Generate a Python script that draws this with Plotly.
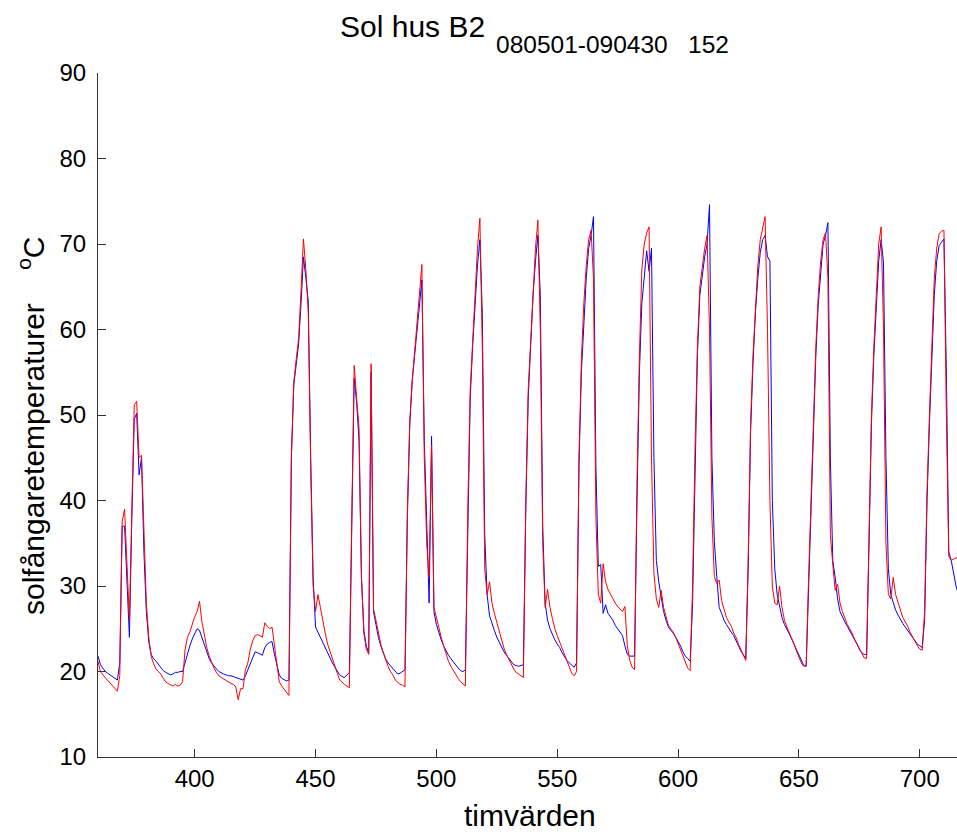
import plotly.graph_objects as go

# hourly collector temperatures, hours 360..716
x_start = 360

blue_vals = [
    21.8, 20.8, 20.4, 20.0, 19.8, 19.6, 19.4, 19.2, 19.0, 21.0,
    37.0, 37.0, 30.0, 24.0, 38.0, 49.5, 50.2, 43.0, 45.0, 34.0,
    27.0, 23.5, 22.0, 21.5, 21.2, 20.8, 20.5, 20.1, 19.9, 19.7,
    19.6, 19.7, 19.9, 19.9, 20.0, 20.0, 21.0, 22.3, 23.0, 23.8,
    24.5, 25.0, 24.8, 24.0, 23.0, 22.2, 21.5, 21.0, 20.6, 20.3,
    20.0, 19.8, 19.7, 19.6, 19.5, 19.5, 19.4, 19.3, 19.2, 19.1,
    19.0, 19.5, 20.2, 21.0, 21.8, 22.3, 22.2, 22.0, 21.9, 22.8,
    23.2, 23.4, 23.5, 22.0, 20.6, 19.6, 19.2, 19.0, 18.9, 19.0,
    45.0, 53.5, 56.0, 58.3, 63.0, 68.5, 66.0, 63.3, 45.0, 31.0,
    25.2, 24.6, 23.8, 23.2, 22.6, 22.0, 21.6, 21.0, 20.5, 20.0,
    19.6, 19.4, 19.3, 19.6, 19.9, 37.0, 54.3, 51.5, 47.0, 31.0,
    24.8, 23.0, 22.2, 55.0, 27.0, 25.5, 24.0, 23.0, 22.2, 21.5,
    21.0, 20.7, 20.3, 20.0, 19.7, 19.8, 20.0, 20.2, 38.0, 49.0,
    54.0, 57.0, 60.0, 63.0, 65.8, 47.0, 36.0, 28.0, 47.5, 27.0,
    25.5, 24.5, 23.7, 23.0, 22.4, 21.9, 21.5, 21.1, 20.7, 20.4,
    20.1, 20.0, 20.2, 38.0, 52.0, 58.0, 63.0, 67.5, 70.5, 62.0,
    36.0, 29.0, 26.5, 25.5, 24.8, 24.0, 23.4, 22.8, 22.3, 21.9,
    21.5, 21.1, 20.8, 20.7, 20.6, 20.7, 20.8, 39.0, 52.0, 58.0,
    64.0, 68.0, 71.0, 64.0, 37.0, 28.0, 26.0, 25.0, 24.3, 23.7,
    23.2, 22.8, 22.2, 21.7, 21.3, 21.0, 20.7, 20.5, 21.0, 44.0,
    55.0, 61.0, 66.0, 69.5, 71.0, 73.2, 44.0, 32.3, 32.5, 26.8,
    27.8, 26.8, 26.4, 26.0, 25.4, 25.0, 24.6, 24.2, 23.0, 22.0,
    21.8, 21.8, 21.8, 40.0, 55.0, 63.0, 66.5, 69.2, 66.8, 69.5,
    45.0, 33.0, 30.5, 28.5, 27.0, 26.0, 25.2, 24.8, 24.5, 24.0,
    23.5, 23.0, 22.3, 21.8, 21.5, 21.2, 28.0, 45.0, 57.0, 64.0,
    66.5, 68.5, 70.0, 74.6, 45.0, 35.2, 31.1, 27.5, 26.8, 26.0,
    25.5, 25.0, 24.6, 24.2, 23.5, 23.0, 22.4, 21.9, 21.5, 32.0,
    48.0, 56.0, 62.0, 66.0, 69.0, 70.5, 71.0, 68.5, 68.0, 40.0,
    32.0, 29.0, 27.5, 26.3, 25.5, 25.0, 24.4, 23.8, 23.2, 22.5,
    21.8, 21.2, 20.7, 20.6, 30.0, 40.0, 50.0, 57.0, 63.0, 67.0,
    70.0, 71.0, 72.5, 45.0, 33.0, 31.0, 28.5, 27.0, 26.3, 25.8,
    25.3, 24.8, 24.3, 23.8, 23.2, 22.6, 22.2, 22.0, 22.0, 35.0,
    49.0, 57.0, 63.0, 68.0, 70.5, 67.8, 45.0, 32.0, 29.0, 28.0,
    27.2, 26.6, 26.0, 25.6, 25.2, 24.8, 24.4, 24.0, 23.6, 23.2,
    23.0, 22.8, 26.0, 40.0, 49.0, 57.0, 64.0, 68.0, 69.8, 70.2,
    70.6, 55.0, 34.0, 33.0, 31.5, 30.0, 29.0,
]

red_vals = [
    21.2, 20.0, 19.6, 19.3, 19.0, 18.7, 18.4, 18.0, 17.7, 19.5,
    37.5, 39.0, 32.0, 26.0, 39.0, 51.2, 51.6, 45.0, 45.3, 36.0,
    28.0, 24.0, 21.8, 20.9, 20.3, 20.0, 19.7, 19.2, 18.8, 18.6,
    18.4, 18.3, 18.5, 18.3, 18.4, 18.8, 22.5, 24.0, 24.6, 25.5,
    26.4, 27.0, 28.2, 25.8, 24.2, 22.8, 21.8, 21.0, 20.4, 19.9,
    19.5, 19.3, 19.1, 18.9, 18.8, 18.6, 18.5, 18.2, 16.7, 18.0,
    18.0, 20.2, 21.0, 22.6, 23.6, 24.2, 24.3, 24.2, 24.0, 25.7,
    25.3, 25.0, 25.2, 23.0, 20.6, 18.8, 18.3, 17.9, 17.6, 17.2,
    45.0, 53.8, 56.5, 59.0, 64.5, 70.6, 67.0, 62.0, 44.0, 30.0,
    27.0, 29.0, 27.5, 25.8, 24.5, 23.2, 22.3, 21.5, 20.6, 19.8,
    19.0, 18.7, 18.5, 18.3, 18.1, 38.0, 55.8, 52.0, 48.5, 31.0,
    24.5, 22.6, 22.0, 56.0, 27.3, 26.0, 24.5, 23.2, 22.2, 21.3,
    20.6, 20.0, 19.6, 19.0, 18.7, 18.5, 18.4, 18.2, 39.0, 49.3,
    54.0, 57.3, 60.5, 64.0, 67.6, 45.0, 35.0, 31.0, 46.5, 27.5,
    26.2, 25.2, 24.0, 23.0, 22.0, 21.2, 20.6, 20.1, 19.6, 19.2,
    18.8, 18.5, 18.3, 39.0, 53.0, 58.5, 64.0, 69.5, 73.0, 58.0,
    32.0, 29.0, 30.5, 28.0, 26.8, 25.8, 24.6, 23.6, 22.7, 22.0,
    21.4, 20.8, 20.3, 19.9, 19.7, 19.5, 19.3, 40.0, 53.0, 58.5,
    65.0, 69.5, 72.8, 60.0, 35.0, 27.5, 29.6, 27.5, 26.2, 25.0,
    24.2, 23.5, 22.8, 22.0, 21.2, 20.5, 19.8, 19.5, 20.0, 45.0,
    56.5, 63.0, 67.5, 70.5, 71.6, 66.0, 38.0, 29.0, 28.0, 32.6,
    30.5, 29.6, 29.0, 28.5, 28.0, 27.6, 27.3, 27.0, 27.6, 23.0,
    21.3, 20.5, 20.2, 42.0, 57.0, 67.0, 70.0, 71.3, 72.0, 45.0,
    31.5, 28.5, 27.5, 29.5, 27.5, 26.3, 25.4, 25.0, 24.6, 24.0,
    23.3, 22.6, 21.8, 21.0, 20.4, 20.1, 30.0, 46.0, 58.0, 65.0,
    67.5, 69.5, 71.0, 60.0, 38.0, 31.1, 30.3, 30.7, 28.3, 27.2,
    26.3, 25.8, 25.3, 24.5, 24.0, 23.2, 22.5, 21.8, 21.3, 33.0,
    49.0, 57.0, 63.0, 67.5, 70.5, 72.0, 73.2, 60.0, 40.0, 30.0,
    28.0, 27.8, 30.0, 27.5, 26.0, 25.2, 24.6, 24.0, 23.2, 22.4,
    21.6, 21.0, 20.6, 20.8, 31.0, 41.0, 51.0, 58.0, 64.0, 68.0,
    70.5, 71.3, 66.0, 36.0, 32.5, 29.5, 30.2, 28.0, 27.0, 26.2,
    25.5, 25.0, 24.5, 23.8, 23.2, 22.6, 22.0, 21.6, 21.5, 37.0,
    50.0, 58.0, 65.0, 70.0, 72.0, 60.0, 35.0, 29.0, 28.5, 31.0,
    29.0, 28.0, 27.0, 26.3, 25.8, 25.3, 24.6, 24.0, 23.5, 23.0,
    22.6, 22.5, 27.0, 41.0, 50.0, 58.0, 66.0, 69.5, 71.2, 71.5,
    71.6, 50.0, 33.5, 33.0, 33.2, 33.3, 33.3,
]

hours_blue = list(range(x_start, x_start + len(blue_vals)))
hours_red = list(range(x_start, x_start + len(red_vals)))

x_ticks = [400, 450, 500, 550, 600, 650, 700]
y_ticks = [10, 20, 30, 40, 50, 60, 70, 80, 90]

title_main = "Sol hus B2"
title_sub = "080501-090430\u00a0\u00a0\u00a0152"
x_title = "timvärden"
y_title = "solfångaretemperaturer\u00a0\u00a0\u00a0\u00a0<sup>o</sup>C"

FONT = "Liberation Sans, Arial, Helvetica, sans-serif"
W, H = 957, 832
L, R, T, B = 98, 0, 73, 75
PW, PH = W - L - R, H - T - B


def px(xp):
    return (xp - L) / PW


def py(yp):
    return (H - B - yp) / PH


fig = go.Figure()
fig.add_trace(go.Scatter(x=hours_blue, y=blue_vals, mode="lines",
                         line=dict(color="#0000FF", width=1), showlegend=False))
fig.add_trace(go.Scatter(x=hours_red, y=red_vals, mode="lines",
                         line=dict(color="#FF0000", width=1), showlegend=False))

axis_common = dict(
    showgrid=False, zeroline=False, showline=True, linecolor="#333333",
    linewidth=1, ticks="inside", ticklen=8, tickcolor="#333333", tickwidth=1,
    tickfont=dict(family=FONT, size=24, color="#000000"), mirror=False,
)

fig.update_layout(
    width=W, height=H,
    margin=dict(l=L, r=R, t=T, b=B, pad=0),
    plot_bgcolor="white", paper_bgcolor="white",
    xaxis=dict(range=[360, 715.4], tickvals=x_ticks, ticklabelstandoff=0, **axis_common),
    yaxis=dict(range=[10, 90], tickvals=y_ticks, ticklabelstandoff=6, **axis_common),
    annotations=[
        dict(text=title_main, xref="paper", yref="paper", x=px(412), y=py(26),
             xanchor="center", yanchor="middle", showarrow=False,
             font=dict(family=FONT, size=30, color="#000000")),
        dict(text=title_sub, xref="paper", yref="paper", x=px(612.5), y=py(44.5),
             xanchor="center", yanchor="middle", showarrow=False,
             font=dict(family=FONT, size=24.5, color="#000000")),
        dict(text=x_title, xref="paper", yref="paper", x=px(530), y=py(815),
             xanchor="center", yanchor="middle", showarrow=False,
             font=dict(family=FONT, size=30, color="#000000")),
        dict(text=y_title, xref="paper", yref="paper", x=px(31), y=py(426),
             xanchor="center", yanchor="middle", showarrow=False, textangle=-90,
             font=dict(family=FONT, size=30, color="#000000")),
    ],
)

fig.write_html(
    "out.html",
    config={"displayModeBar": False},
    post_script="document.body.style.margin='0px';document.body.style.padding='0px';",
)
